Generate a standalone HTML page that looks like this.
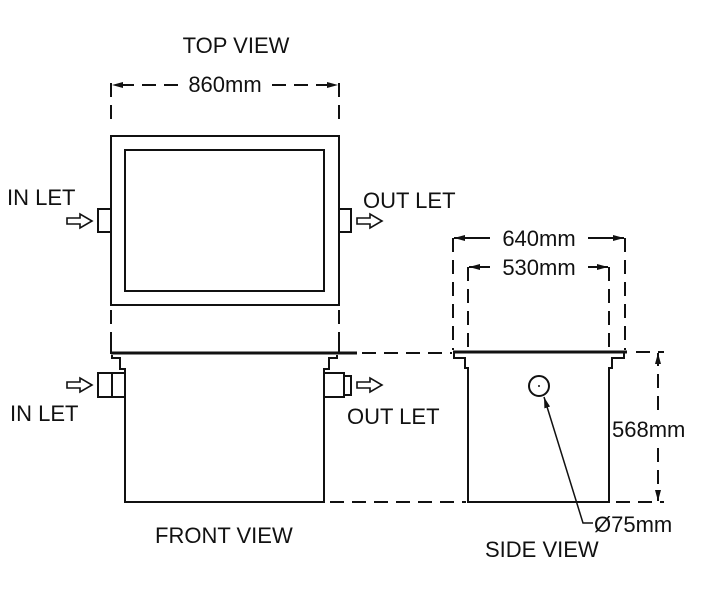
<!DOCTYPE html>
<html><head><style>body{margin:0;background:#fff}svg{display:block}text{font-family:"Liberation Sans",sans-serif;font-size:22px;fill:#111}</style></head><body>
<svg width="712" height="600" viewBox="0 0 712 600" xmlns="http://www.w3.org/2000/svg">
<defs><marker id="a" markerWidth="12" markerHeight="8" refX="11" refY="4" orient="auto" markerUnits="userSpaceOnUse"><path d="M0,1 L11,4 L0,7 Z" fill="#111"/></marker></defs>
<g stroke="#111" fill="none" stroke-width="2">
<rect x="111" y="136" width="228" height="169"/>
<rect x="125" y="150" width="199" height="141"/>
<rect x="98" y="209" width="13" height="23"/>
<rect x="339" y="209" width="12" height="23"/>
<g stroke-dasharray="14,8">
<line x1="111" y1="83" x2="111" y2="126"/><line x1="339" y1="83" x2="339" y2="126"/>
<line x1="111" y1="310" x2="111" y2="345"/><line x1="339" y1="310" x2="339" y2="345"/>
</g>
<path d="M178,85 H112" stroke-dasharray="14,8" marker-end="url(#a)"/>
<path d="M272,85 H338" stroke-dasharray="14,8" marker-end="url(#a)"/>
<line x1="111" y1="334" x2="111" y2="354"/><line x1="339" y1="334" x2="339" y2="354"/>
<line x1="111" y1="353" x2="357" y2="353" stroke-width="3"/>
<path d="M112,355 V358 H120 V369 H125 V502 H324 V369 H329 V358 H337 V355"/>
<path d="M125,373 H112 V397 H125 M112,373 V397"/>
<path d="M98,373 H112 V397 H98 Z"/>
<path d="M324,373 H344 V376 H351 V395 H344 V397 H324"/>
<line x1="344" y1="376" x2="344" y2="395"/>
<line x1="453" y1="352" x2="627" y2="352" stroke-width="3"/>
<path d="M454,353 V358 H465 V368 H468 V502 H609 V368 H612 V358 H624 V353"/>
<circle cx="539" cy="386" r="10"/>
<g stroke-dasharray="14,8">
<line x1="453" y1="238" x2="453" y2="350"/><line x1="625" y1="238" x2="625" y2="350"/>
<line x1="468" y1="267" x2="468" y2="350"/><line x1="609" y1="267" x2="609" y2="350"/>
<line x1="636" y1="352" x2="664" y2="352"/>
<line x1="330" y1="502" x2="466" y2="502"/>
<line x1="616" y1="502" x2="664" y2="502"/>
<line x1="362" y1="353" x2="452" y2="353"/>
</g>
<path d="M490,238 H454" marker-end="url(#a)"/>
<path d="M588,238 H624" marker-end="url(#a)"/>
<path d="M490,267 H469" marker-end="url(#a)"/>
<path d="M588,267 H608" marker-end="url(#a)"/>
<path d="M658,410 V353" stroke-dasharray="14,8" marker-end="url(#a)"/>
<path d="M658,448 V501" stroke-dasharray="14,8" marker-end="url(#a)"/>
<path d="M593,523 H583 L544,397" stroke-width="1.5" marker-end="url(#a)"/>
<g stroke-width="1.6">
<path d="M67,218 H80 V214 L92,221 L80,228 V224 H67 Z"/>
<path d="M357,218 H370 V214 L382,221 L370,228 V224 H357 Z"/>
<path d="M67,382 H80 V378 L92,385 L80,392 V388 H67 Z"/>
<path d="M357,382 H370 V378 L382,385 L370,392 V388 H357 Z"/>
</g>
</g>
<circle cx="539" cy="386" r="1" fill="#111"/>
<text x="236" y="53" text-anchor="middle">TOP VIEW</text>
<text x="225" y="92" text-anchor="middle">860mm</text>
<text x="7" y="205">IN LET</text>
<text x="363" y="208">OUT LET</text>
<text x="10" y="421">IN LET</text>
<text x="347" y="424">OUT LET</text>
<text x="155" y="543">FRONT VIEW</text>
<text x="485" y="557">SIDE VIEW</text>
<text x="539" y="246" text-anchor="middle">640mm</text>
<text x="539" y="275" text-anchor="middle">530mm</text>
<text x="612" y="437">568mm</text>
<text x="594" y="532">Ø75mm</text>
</svg>
</body></html>
